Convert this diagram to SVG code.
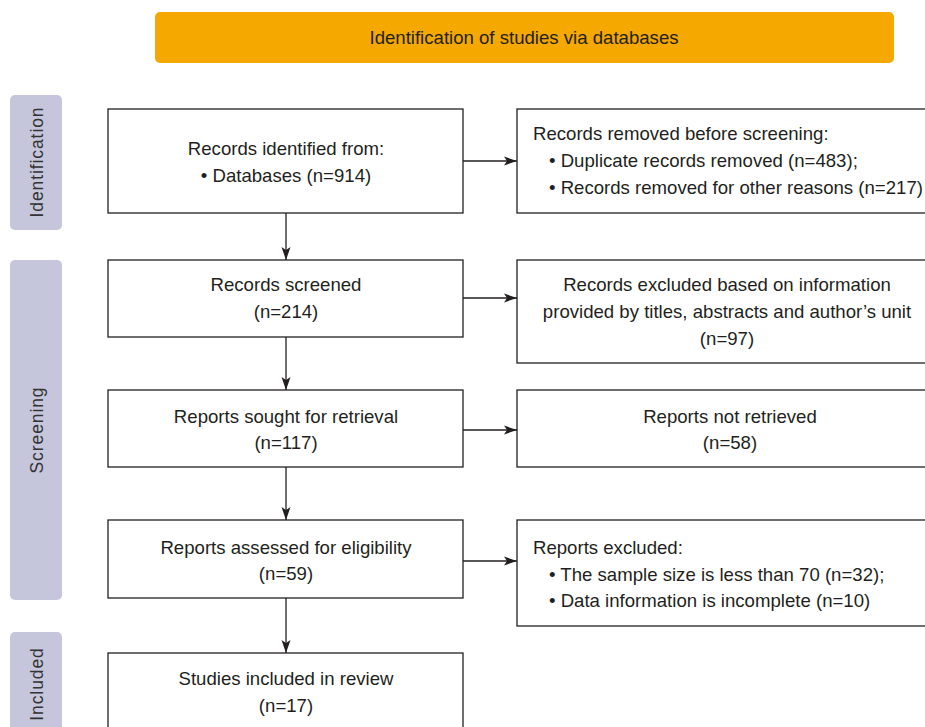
<svg xmlns="http://www.w3.org/2000/svg" width="925" height="727" viewBox="0 0 925 727">
<style>
text{font-family:"Liberation Sans",Arial,sans-serif;font-size:18.6px;fill:#231f20}
.c{text-anchor:middle}
.box{fill:#fff;stroke:#231f20;stroke-width:1.3}
.side{fill:#c5c6dc}
.sl{font-size:17.5px;letter-spacing:0.9px;fill:#333}
.con{stroke:#231f20;stroke-width:1.3;fill:none;marker-end:url(#ah)}
</style>
<defs>
<marker id="ah" markerWidth="13" markerHeight="10" refX="13" refY="5" orient="auto" markerUnits="userSpaceOnUse">
<path d="M0,0.5 L13,5 L0,9.5 L3,5 Z" fill="#231f20"/>
</marker>
</defs>
<g id="banner">
<rect x="155" y="12" width="739" height="51" rx="5" fill="#f5a800"/>
<text class="c" x="524" y="44">Identification of studies via databases</text>
</g>
<g id="side-identification">
<rect class="side" x="10" y="95" width="52" height="135" rx="5"/>
<text class="c sl" transform="translate(43,162) rotate(-90)">Identification</text>
</g>
<g id="side-screening">
<rect class="side" x="10" y="260" width="52" height="340" rx="5"/>
<text class="c sl" transform="translate(43,430) rotate(-90)">Screening</text>
</g>
<g id="side-included">
<rect class="side" x="10" y="632" width="52" height="105" rx="5"/>
<text class="c sl" transform="translate(43,684) rotate(-90)">Included</text>
</g>
<g id="n-identified">
<rect class="box" x="108" y="109" width="355" height="104"/>
<text class="c" x="286" y="155">Records identified from:</text>
<text class="c" x="286" y="182">• Databases (n=914)</text>
</g>
<g id="n-removed">
<rect class="box" x="517" y="109" width="420" height="104"/>
<text x="533" y="140">Records removed before screening:</text>
<text x="549" y="167">• Duplicate records removed (n=483);</text>
<text x="549" y="194">• Records removed for other reasons (n=217)</text>
</g>
<g id="n-screened">
<rect class="box" x="108" y="260" width="355" height="77"/>
<text class="c" x="286" y="291">Records screened</text>
<text class="c" x="286" y="318">(n=214)</text>
</g>
<g id="n-excluded">
<rect class="box" x="517" y="260" width="420" height="103"/>
<text class="c" x="727" y="291">Records excluded based on information</text>
<text class="c" x="727" y="318">provided by titles, abstracts and author’s unit</text>
<text class="c" x="727" y="345">(n=97)</text>
</g>
<g id="n-sought">
<rect class="box" x="108" y="390" width="355" height="77"/>
<text class="c" x="286" y="423">Reports sought for retrieval</text>
<text class="c" x="286" y="449">(n=117)</text>
</g>
<g id="n-notretrieved">
<rect class="box" x="517" y="390" width="420" height="77"/>
<text class="c" x="730" y="423">Reports not retrieved</text>
<text class="c" x="730" y="449">(n=58)</text>
</g>
<g id="n-assessed">
<rect class="box" x="108" y="520" width="355" height="78"/>
<text class="c" x="286" y="554">Reports assessed for eligibility</text>
<text class="c" x="286" y="580">(n=59)</text>
</g>
<g id="n-repexcluded">
<rect class="box" x="517" y="520" width="420" height="106"/>
<text x="533" y="554">Reports excluded:</text>
<text x="549" y="581">• The sample size is less than 70 (n=32);</text>
<text x="549" y="607">• Data information is incomplete (n=10)</text>
</g>
<g id="n-included">
<rect class="box" x="108" y="653" width="355" height="90"/>
<text class="c" x="286" y="685">Studies included in review</text>
<text class="c" x="286" y="712">(n=17)</text>
</g>
<g id="connectors">
<line class="con" x1="286" y1="213" x2="286" y2="260"/>
<line class="con" x1="286" y1="337" x2="286" y2="390"/>
<line class="con" x1="286" y1="467" x2="286" y2="520"/>
<line class="con" x1="286" y1="598" x2="286" y2="653"/>
<line class="con" x1="463" y1="161" x2="517" y2="161"/>
<line class="con" x1="463" y1="298" x2="517" y2="298"/>
<line class="con" x1="463" y1="430" x2="517" y2="430"/>
<line class="con" x1="463" y1="561" x2="517" y2="561"/>
</g>
</svg>
